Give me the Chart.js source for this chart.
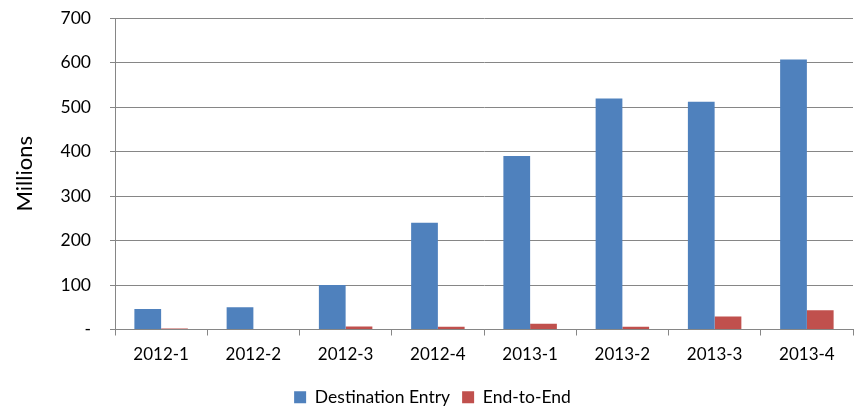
<!DOCTYPE html>
<html>
<head>
<meta charset="utf-8">
<script src="https://cdn.jsdelivr.net/npm/chart.js@4"></script>
<style>
html,body{margin:0;padding:0;background:#fff;}
#wrap{width:854px;height:407px;}
</style>
</head>
<body>
<div id="wrap"><canvas id="c" width="854" height="407"></canvas></div>
<script>
const categories = ["2012-1","2012-2","2012-3","2012-4","2013-1","2013-2","2013-3","2013-4"];
const destinationEntry = [46, 50, 100, 240, 390, 519, 512, 607];
const endToEnd = [2, 1, 7, 6, 13, 6, 29, 43];
const yTicks = [0, 100, 200, 300, 400, 500, 600, 700];
const FONT = "Lato, 'Liberation Sans', sans-serif";

const legendShift = {
  id: 'legendShift',
  afterLayout(chart) {
    if (chart.legend) { chart.legend.top += 9; chart.legend.bottom += 9; if (chart.legend.adjustHitBoxes) chart.legend.adjustHitBoxes(); }
  }
};

new Chart(document.getElementById('c'), {
  type: 'bar',
  data: {
    labels: categories,
    datasets: [
      { label: 'Destination Entry', data: destinationEntry, backgroundColor: '#4F81BD', borderWidth: 0 },
      { label: 'End-to-End', data: endToEnd, backgroundColor: '#C0504D', borderWidth: 0 }
    ]
  },
  plugins: [legendShift],
  options: {
    responsive: false,
    animation: false,
    devicePixelRatio: 1,
    layout: { padding: { top: 18, right: 1, left: 12, bottom: 0 } },
    datasets: { bar: { categoryPercentage: 2/3.45, barPercentage: 1 } },
    plugins: {
      tooltip: { enabled: false },
      legend: {
        position: 'bottom',
        labels: {
          boxWidth: 12, boxHeight: 12, padding: 12,
          color: '#000', font: { family: FONT, size: 17.5 }
        }
      }
    },
    scales: {
      x: {
        grid: { drawOnChartArea: false, drawTicks: true, tickLength: 6, color: '#868686', offset: true },
        border: { color: '#868686', width: 1 },
        ticks: { color: '#000', font: { family: FONT, size: 17 }, padding: 9, maxRotation: 0 },
        afterFit: (s) => { s.height = 38; }
      },
      y: {
        min: 0, max: 700,
        afterBuildTicks: (s) => { s.ticks = yTicks.map(v => ({ value: v })); },
        grid: { color: '#868686', lineWidth: 1, drawTicks: true, tickLength: 5 },
        border: { color: '#868686', width: 1 },
        ticks: {
          color: '#000', font: { family: FONT, size: 17.5 }, padding: 19,
          callback: (v) => v === 0 ? '-' : String(v)
        },
        title: { display: true, text: 'Millions', color: '#000', font: { family: FONT, size: 22 }, padding: { top: 0, bottom: 10 } },
        afterFit: (s) => { s.width = 103; s.paddingTop = 0; s.paddingBottom = 0; }
      }
    }
  }
});
</script>
</body>
</html>
